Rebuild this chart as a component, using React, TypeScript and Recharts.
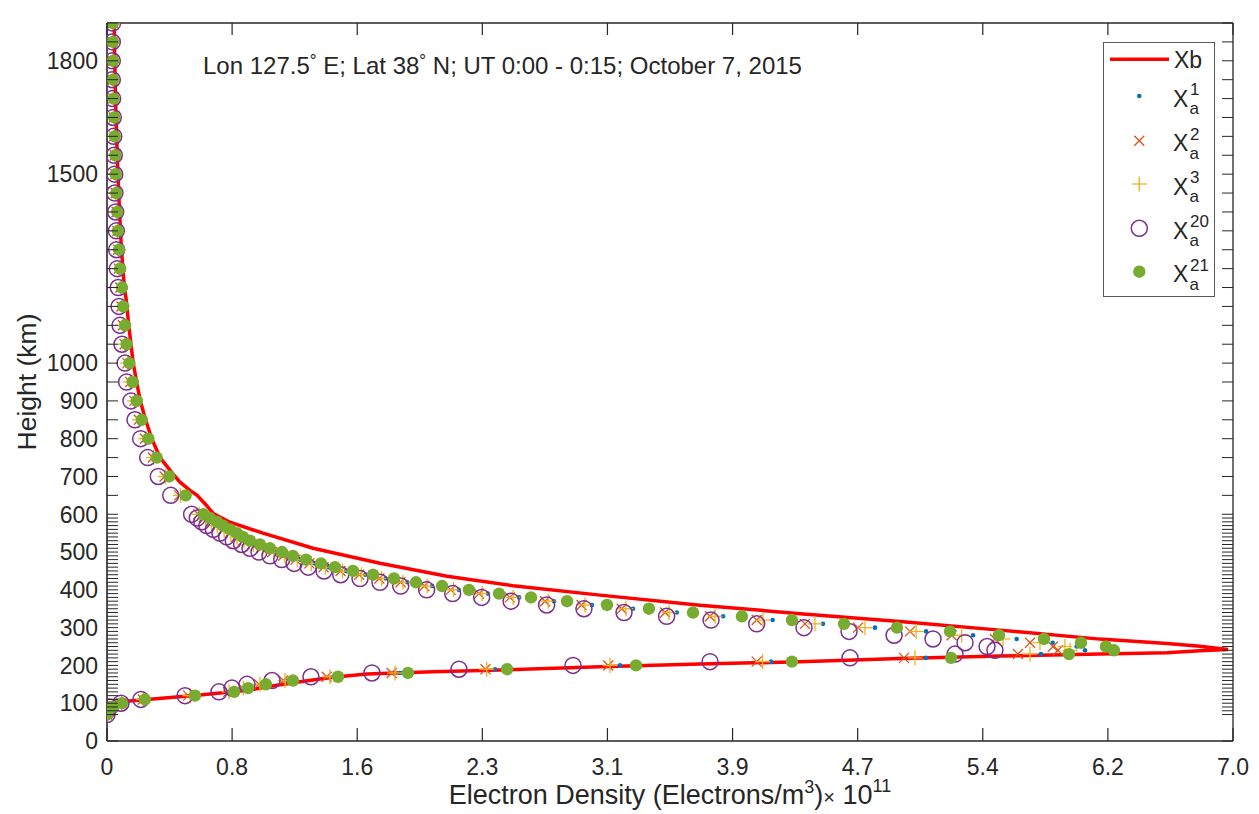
import React from 'react';
import { ScatterChart, Scatter, XAxis, YAxis, Legend, ReferenceLine } from 'recharts';

// ---------------- data ----------------
const HEIGHTS = [
  1900, 1850, 1800, 1750, 1700, 1650, 1600, 1550, 1500, 1450, 1400, 1350, 1300, 1250, 1200, 1150, 1100, 1050, 1000, 950, 900, 850, 800, 750, 700, 650,
  600, 590, 580, 570, 560, 550, 540, 530, 520, 510, 500, 490, 480, 470, 460, 450, 440, 430, 420, 410, 400, 390, 380, 370, 360, 350, 340, 330, 320, 310,
  300, 290, 280, 270, 260, 250, 240, 230, 220, 210, 200, 190, 180, 170, 160, 150, 140, 130, 120, 110, 100, 90, 80, 70,
];

const XA1 = [
  0.037, 0.036, 0.038, 0.038, 0.040, 0.044, 0.047, 0.050, 0.053, 0.056, 0.062, 0.066, 0.071, 0.077, 0.088, 0.095, 0.105, 0.115, 0.133, 0.151, 0.176, 0.206, 0.245, 0.296, 0.371, 0.467,
  0.581, 0.621, 0.661, 0.697, 0.740, 0.783, 0.821, 0.864, 0.924, 0.983,
  1.054, 1.122, 1.201, 1.290, 1.377, 1.486, 1.606, 1.733, 1.867, 2.021,
  2.187, 2.368, 2.562, 2.779, 3.015, 3.270, 3.542, 3.830, 4.138, 4.451,
  4.774, 5.092, 5.384, 5.655, 5.879, 6.028, 6.080, 5.806, 5.092, 4.128,
  3.189, 2.412, 1.821, 1.407, 1.125, 0.963, 0.858, 0.765, 0.529, 0.230,
  0.093, 0.034, 0.006, 0.000,
];

const XA2 = [
  0.036, 0.035, 0.036, 0.036, 0.039, 0.042, 0.045, 0.049, 0.051, 0.054, 0.060, 0.064, 0.069, 0.074, 0.083, 0.090, 0.099, 0.110, 0.127, 0.144, 0.170, 0.198, 0.236, 0.285, 0.358, 0.449,
  0.568, 0.606, 0.643, 0.678, 0.720, 0.762, 0.802, 0.844, 0.902, 0.960,
  1.027, 1.095, 1.172, 1.258, 1.346, 1.452, 1.568, 1.693, 1.825, 1.972,
  2.137, 2.313, 2.504, 2.723, 2.950, 3.200, 3.469, 3.748, 4.039, 4.339,
  4.669, 4.992, 5.251, 5.520, 5.738, 5.881, 5.912, 5.663, 4.955, 4.039,
  3.116, 2.353, 1.770, 1.366, 1.096, 0.945, 0.844, 0.754, 0.505, 0.222,
  0.090, 0.028, 0.003, 0.000,
];

const XA3 = [
  0.036, 0.036, 0.037, 0.037, 0.039, 0.043, 0.046, 0.049, 0.052, 0.055, 0.060, 0.064, 0.070, 0.075, 0.085, 0.092, 0.101, 0.112, 0.129, 0.146, 0.172, 0.201, 0.240, 0.289, 0.363, 0.456,
  0.573, 0.612, 0.650, 0.685, 0.728, 0.770, 0.809, 0.852, 0.910, 0.968,
  1.037, 1.105, 1.183, 1.270, 1.357, 1.464, 1.582, 1.708, 1.840, 1.990,
  2.155, 2.333, 2.525, 2.743, 2.971, 3.226, 3.494, 3.780, 4.078, 4.401,
  4.712, 5.030, 5.313, 5.570, 5.800, 5.955, 5.987, 5.738, 5.023, 4.076,
  3.127, 2.360, 1.790, 1.386, 1.107, 0.951, 0.848, 0.759, 0.516, 0.226,
  0.091, 0.031, 0.003, 0.000,
];

const XA20 = [
  0.035, 0.033, 0.033, 0.033, 0.035, 0.039, 0.042, 0.045, 0.048, 0.049, 0.054, 0.058, 0.060, 0.064, 0.070, 0.075, 0.081, 0.093, 0.112, 0.122, 0.149, 0.174, 0.209, 0.253, 0.319, 0.396,
  0.526, 0.561, 0.589, 0.620, 0.661, 0.702, 0.744, 0.785, 0.837, 0.889,
  0.945, 1.013, 1.086, 1.163, 1.251, 1.349, 1.453, 1.573, 1.697, 1.826,
  1.987, 2.149, 2.329, 2.512, 2.733, 2.965, 3.214, 3.479, 3.755, 4.039,
  4.333, 4.613, 4.893, 5.135, 5.334, 5.471, 5.520, 5.272, 4.619, 3.749,
  2.897, 2.188, 1.647, 1.268, 1.026, 0.870, 0.777, 0.696, 0.485, 0.211,
  0.087, 0.019, 0.000, 0.000,
];

const XA21 = [
  0.037, 0.037, 0.039, 0.039, 0.042, 0.045, 0.048, 0.052, 0.054, 0.058, 0.064, 0.068, 0.075, 0.081, 0.093, 0.101, 0.112, 0.122, 0.139, 0.160, 0.185, 0.216, 0.257, 0.309, 0.387, 0.489,
  0.599, 0.640, 0.684, 0.721, 0.765, 0.808, 0.845, 0.889, 0.951, 1.013,
  1.088, 1.156, 1.237, 1.330, 1.417, 1.529, 1.654, 1.784, 1.921, 2.083,
  2.250, 2.437, 2.636, 2.860, 3.108, 3.369, 3.643, 3.947, 4.258, 4.582,
  4.911, 5.241, 5.545, 5.825, 6.055, 6.210, 6.260, 5.980, 5.247, 4.258,
  3.289, 2.487, 1.871, 1.436, 1.156, 0.988, 0.877, 0.790, 0.547, 0.236,
  0.093, 0.037, 0.006, 0.000,
];

const XB_HEIGHTS = [
  1900, 1800, 1700, 1600, 1500, 1400, 1300, 1200, 1166, 1100,
  1000, 950, 900, 850, 800, 750, 716, 685, 663, 650,
  628, 602, 579, 550, 510, 470.5, 436, 411, 386, 359.5,
  337, 316, 293.4, 269.6, 257.7, 251, 242.3, 238.7, 233.4, 230,
  224.7, 218.6, 209.6, 203.5, 196.4, 187.7, 183.2, 177.1, 168.4, 156.8,
  143.5, 134.8, 121.6, 110.2, 103.9, 99.7, 90, 80, 70,
];
const XB_VALUES = [
  0.045, 0.048, 0.053, 0.060, 0.068, 0.078, 0.090, 0.108, 0.120, 0.135,
  0.163, 0.184, 0.207, 0.240, 0.278, 0.330, 0.392, 0.454, 0.516, 0.560,
  0.609, 0.661, 0.764, 0.970, 1.281, 1.697, 2.114, 2.524, 3.065, 3.686,
  4.308, 4.930, 5.551, 6.173, 6.590, 6.795, 6.969, 6.795, 6.590, 6.173,
  5.551, 4.930, 4.308, 3.686, 3.065, 2.443, 2.027, 1.616, 1.405, 1.200,
  0.995, 0.889, 0.578, 0.267, 0.081, 0.006, 0.003, 0.001, 0,
];

const X_TICK_VALUES = [0, 0.7778, 1.5556, 2.3333, 3.1111, 3.8889, 4.6667, 5.4444, 6.2222, 7.0];
const X_TICK_LABELS = ['0', '0.8', '1.6', '2.3', '3.1', '3.9', '4.7', '5.4', '6.2', '7.0'];
const Y_LABELS = [0, 100, 200, 300, 400, 500, 600, 700, 800, 900, 1000, 1500, 1800];
const Y_TICKS = Array.from(new Set([...Y_LABELS, ...HEIGHTS])).sort((a, b) => a - b);

const toPoints = (vals: number[], hs: number[]) => vals.map((v, i) => ({ x: v, y: hs[i] }));
const xbData = toPoints(XB_VALUES, XB_HEIGHTS);
const x1Data = toPoints(XA1, HEIGHTS);
const x2Data = toPoints(XA2, HEIGHTS);
const x3Data = toPoints(XA3, HEIGHTS);
const x20Data = toPoints(XA20, HEIGHTS);
const x21Data = toPoints(XA21, HEIGHTS);

// ---------------- layout / style ----------------
const W = 1259;
const H = 814;
const MARGIN = { top: 23, right: 26, bottom: 23, left: 27 };
const Y_AXIS_W = 80;
const X_AXIS_H = 50;
const PLOT_LEFT = MARGIN.left + Y_AXIS_W;
const PLOT_W = W - PLOT_LEFT - MARGIN.right;
const PLOT_TOP = MARGIN.top;
const PLOT_H = H - MARGIN.top - MARGIN.bottom - X_AXIS_H;
const FONT = '"Liberation Sans", Arial, Helvetica, sans-serif';
const INK = '#262626';
const C_BLUE = '#0072BD';
const C_ORANGE = '#D95319';
const C_YELLOW = '#EDB120';
const C_PURPLE = '#7E2F8E';
const C_GREEN = '#77AC30';
const C_RED = '#FF0000';

// ---------------- marker shapes ----------------
const dotMark = (cx: number, cy: number) => <circle cx={cx} cy={cy} r={2.3} fill={C_BLUE} />;
const crossMark = (cx: number, cy: number) => (
  <g stroke={C_ORANGE} strokeWidth={1.3}>
    <line x1={cx - 5} y1={cy - 5} x2={cx + 5} y2={cy + 5} />
    <line x1={cx - 5} y1={cy + 5} x2={cx + 5} y2={cy - 5} />
  </g>
);
const plusMark = (cx: number, cy: number) => (
  <g stroke={C_YELLOW} strokeWidth={1.3}>
    <line x1={cx - 7.5} y1={cy} x2={cx + 7.5} y2={cy} />
    <line x1={cx} y1={cy - 7.5} x2={cx} y2={cy + 7.5} />
  </g>
);
const circleMark = (cx: number, cy: number) => (
  <circle cx={cx} cy={cy} r={8} fill="none" stroke={C_PURPLE} strokeWidth={1.5} />
);
const greenMark = (cx: number, cy: number) => <circle cx={cx} cy={cy} r={6.2} fill={C_GREEN} />;

const shapeOf = (fn: (cx: number, cy: number) => React.ReactElement) => (p: any) =>
  p && typeof p.cx === 'number' ? fn(p.cx, p.cy) : <g />;

// ---------------- axes ----------------
const XTick = (props: any) => {
  const { x, y, payload } = props;
  const i = X_TICK_VALUES.findIndex((v) => Math.abs(v - payload.value) < 1e-6);
  const label = i >= 0 ? X_TICK_LABELS[i] : '';
  return (
    <g>
      <line x1={x} x2={x} y1={y} y2={y - 13} stroke={INK} strokeWidth={1.2} />
      <line x1={x} x2={x} y1={PLOT_TOP} y2={PLOT_TOP + 12} stroke={INK} strokeWidth={1.2} />
      <text x={x} y={y + 34} textAnchor="middle" fontSize={23} fill={INK} fontFamily={FONT}>
        {label}
      </text>
    </g>
  );
};

const YTick = (props: any) => {
  const { x, y, payload } = props;
  const v = payload.value;
  const labeled = Y_LABELS.includes(v);
  return (
    <g>
      <line x1={x} x2={x + 11} y1={y} y2={y} stroke={INK} strokeWidth={1} />
      <line x1={x + PLOT_W - 11} x2={x + PLOT_W} y1={y} y2={y} stroke={INK} strokeWidth={1} />
      {labeled ? (
        <text x={x - 9} y={y} dy="0.36em" textAnchor="end" fontSize={23} fill={INK} fontFamily={FONT}>
          {v}
        </text>
      ) : null}
    </g>
  );
};

const XLabel = (props: any) => {
  const vb = props.viewBox || { x: PLOT_LEFT, y: PLOT_TOP + PLOT_H, width: PLOT_W, height: X_AXIS_H };
  const cx = vb.x + vb.width / 2;
  return (
    <g>
      <text x={cx} y={vb.y + 63} textAnchor="middle" fontSize={27} fill={INK} fontFamily={FONT}>
        Electron Density (Electrons/m
        <tspan fontSize={18} dy={-11}>3</tspan>
        <tspan dy={11}>)</tspan>
        <tspan fontSize={20}>×</tspan>
        <tspan> 10</tspan>
        <tspan fontSize={18} dy={-12}>11</tspan>
      </text>
      <text x={203} y={74} fontSize={24} fill={INK} fontFamily={FONT}>
        Lon 127.5<tspan fontSize={17} dy={-8}>°</tspan>
        <tspan dy={8}> E; Lat 38</tspan>
        <tspan fontSize={17} dy={-8}>°</tspan>
        <tspan dy={8}> N; UT 0:00 - 0:15; October 7, 2015</tspan>
      </text>
    </g>
  );
};

const YLabel = (props: any) => {
  const vb = props.viewBox || { x: MARGIN.left, y: PLOT_TOP, width: Y_AXIS_W, height: PLOT_H };
  const x = vb.x + 8.5;
  const y = vb.y + vb.height / 2;
  return (
    <text x={x} y={y} transform={`rotate(-90, ${x}, ${y})`} textAnchor="middle" fontSize={26.5} fill={INK} fontFamily={FONT}>
      Height (km)
    </text>
  );
};

// ---------------- legend ----------------
const LEGEND_ROWS: { sup: string; cy: number; mark: (cx: number, cy: number) => React.ReactElement }[] = [
  { sup: '1', cy: 54, mark: dotMark },
  { sup: '2', cy: 98.7, mark: crossMark },
  { sup: '3', cy: 142, mark: plusMark },
  { sup: '20', cy: 186.3, mark: circleMark },
  { sup: '21', cy: 229.7, mark: greenMark },
];

const LegendContent = () => (
  <svg width={112} height={255} style={{ display: 'block', overflow: 'visible' }} fontFamily={FONT}>
    <rect x={0.5} y={0.5} width={111} height={254} fill="#ffffff" stroke="#5a5a5a" strokeWidth={1} />
    <line x1={7} x2={66} y1={17.3} y2={17.3} stroke={C_RED} strokeWidth={3.5} />
    <text x={71} y={25.5} fontSize={23} fill={INK}>Xb</text>
    {LEGEND_ROWS.map((r) => (
      <g key={r.sup}>
        {r.mark(36.3, r.cy)}
        <text x={70} y={r.cy + 10.7} fontSize={23} fill={INK}>X</text>
        <text x={87} y={r.cy - 1} fontSize={17} fill={INK}>{r.sup}</text>
        <text x={86.5} y={r.cy + 18} fontSize={17} fill={INK}>a</text>
      </g>
    ))}
  </svg>
);

export default function App() {
  return (
    <div style={{ position: 'absolute', left: 0, top: 0, width: W, height: H, background: '#ffffff', fontFamily: FONT }}>
      <ScatterChart width={W} height={H} margin={MARGIN}>
        <XAxis
          type="number"
          dataKey="x"
          domain={[0, 7]}
          allowDataOverflow
          ticks={X_TICK_VALUES}
          interval={0}
          tickSize={0}
          tickMargin={0}
          tickLine={false}
          tick={XTick}
          height={X_AXIS_H}
          axisLine={{ stroke: INK, strokeWidth: 1.6 }}
          label={XLabel}
        />
        <YAxis
          type="number"
          dataKey="y"
          domain={[0, 1900]}
          allowDataOverflow
          ticks={Y_TICKS}
          interval={0}
          tickSize={0}
          tickMargin={0}
          tickLine={false}
          tick={YTick}
          width={Y_AXIS_W}
          axisLine={{ stroke: INK, strokeWidth: 1.6 }}
          label={YLabel}
        />
        <ReferenceLine y={1900} stroke={INK} strokeWidth={1.3} />
        <ReferenceLine x={7} stroke={INK} strokeWidth={1.3} />
        <Scatter
          name="Xb"
          data={xbData}
          line={{ stroke: C_RED, strokeWidth: 3.5 }}
          lineType="joint"
          shape={() => <g />}
          isAnimationActive={false}
        />
        <Scatter name="Xa1" data={x1Data} shape={shapeOf(dotMark)} isAnimationActive={false} />
        <Scatter name="Xa2" data={x2Data} shape={shapeOf(crossMark)} isAnimationActive={false} />
        <Scatter name="Xa3" data={x3Data} shape={shapeOf(plusMark)} isAnimationActive={false} />
        <Scatter name="Xa20" data={x20Data} shape={shapeOf(circleMark)} isAnimationActive={false} />
        <Scatter name="Xa21" data={x21Data} shape={shapeOf(greenMark)} isAnimationActive={false} />
        <Legend
          layout="vertical"
          align="center"
          verticalAlign="middle"
          content={LegendContent}
          wrapperStyle={{ left: 1103, top: 42, width: 112, height: 255 }}
        />
      </ScatterChart>
    </div>
  );
}
